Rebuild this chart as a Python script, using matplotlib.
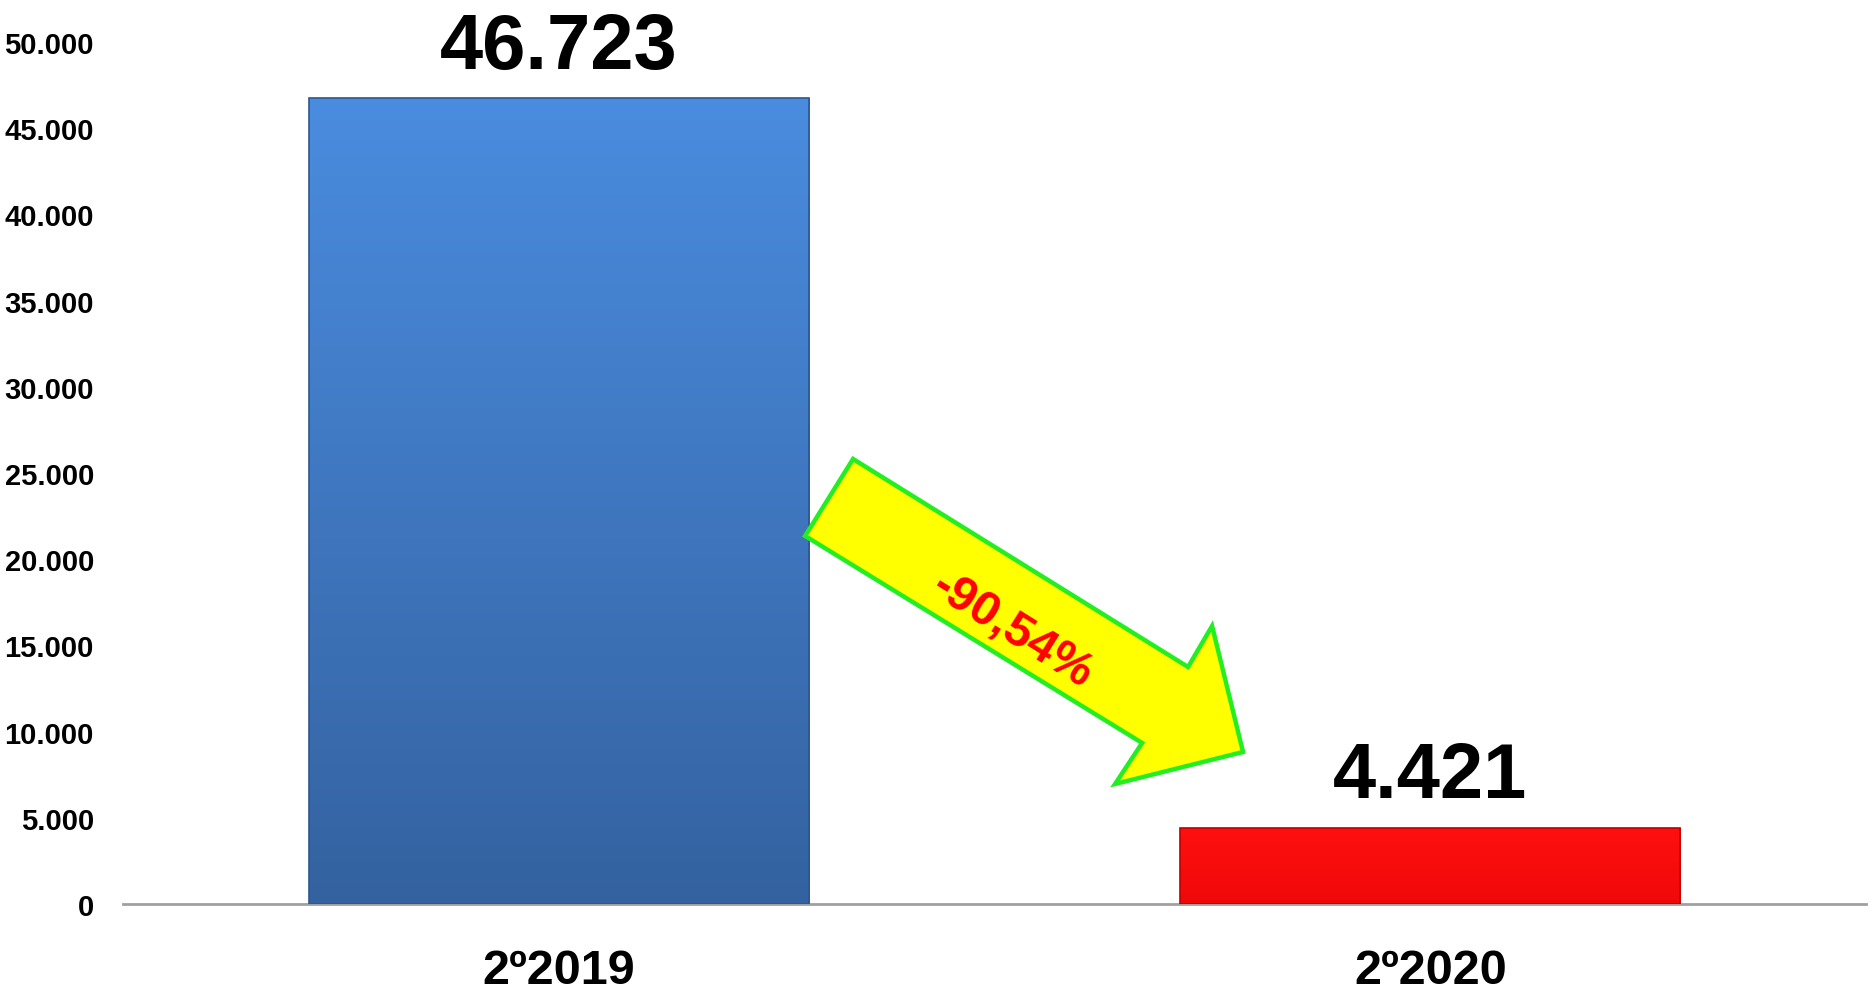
import numpy as np
import matplotlib
matplotlib.use("Agg")
import matplotlib.pyplot as plt
from matplotlib.colors import LinearSegmentedColormap
from matplotlib.patches import Polygon
from matplotlib.ticker import FuncFormatter

categories = ["2º2019", "2º2020"]
values = [46723, 4421]
yticks = list(range(0, 50001, 5000))

bar_colors = [("#3462A0", "#4A8CDF"), ("#F00808", "#FF1010")]
edge_colors = ["#2C5790", "#C00000"]

plt.rcParams["font.family"] = ["Liberation Sans", "DejaVu Sans"]
plt.rcParams["font.weight"] = "bold"

def thousands(v, pos=None):
    return f"{int(v):,}".replace(",", ".")

fig = plt.figure(figsize=(18.76, 9.95), dpi=100)
ax = fig.add_axes([0.0656, 0.0905, 0.9291, 0.8663])

x = np.arange(len(categories))
bars = ax.bar(x, values, width=0.574, color="none", zorder=2)

# gradient fill clipped to each bar
for b, (c_bot, c_top), ec in zip(bars, bar_colors, edge_colors):
    x0, y0 = b.get_x(), b.get_y()
    w, h = b.get_width(), b.get_height()
    cmap = LinearSegmentedColormap.from_list("g", [c_bot, c_top])
    grad = np.linspace(0, 1, 256).reshape(-1, 1)
    im = ax.imshow(grad, cmap=cmap, origin="lower", aspect="auto",
                   extent=[x0, x0 + w, y0, y0 + h], zorder=1)
    im.set_clip_path(b)
    b.set_edgecolor(ec)
    b.set_linewidth(1.2)

ax.set_xlim(-0.5, 1.5)
ax.set_ylim(0, 50000)

# value labels
for xi, v in zip(x, values):
    ax.annotate(thousands(v), (xi, v), xytext=(0, 22), textcoords="offset points",
                ha="center", va="baseline", fontsize=56, fontweight="bold", color="black")

# arrow showing the change
pct = (values[1] - values[0]) / values[0] * 100
arrow_pts = [(0.3376, 25812), (0.2826, 21346), (0.6693, 9339), (0.6383, 6961),
             (0.7851, 8817), (0.7496, 16125), (0.7220, 13747)]
ax.add_patch(Polygon(arrow_pts, closed=True, facecolor="#FFFF00",
                     edgecolor="#22EE22", linewidth=3.2, zorder=3))
ax.text(0.5195, 15900, f"{pct:.2f}%".replace(".", ","), rotation=-32,
        rotation_mode="anchor", ha="center", va="center", fontsize=35,
        fontweight="bold", color="#FF0000", zorder=4)

ax.set_xticks(x)
ax.set_xticklabels(categories, fontsize=35, fontweight="bold")
ax.set_yticks(yticks)
ax.yaxis.set_major_formatter(FuncFormatter(thousands))
ax.tick_params(axis="x", length=0, pad=32)
ax.tick_params(axis="y", length=0, pad=21, labelsize=21)
for lab in ax.get_yticklabels():
    lab.set_fontweight("bold")

for s in ["top", "right", "left"]:
    ax.spines[s].set_visible(False)
ax.spines["bottom"].set_color("#A0A0A0")
ax.spines["bottom"].set_linewidth(2)
ax.spines["bottom"].set_zorder(0)

fig.savefig("out.png", dpi=100, facecolor="white")
